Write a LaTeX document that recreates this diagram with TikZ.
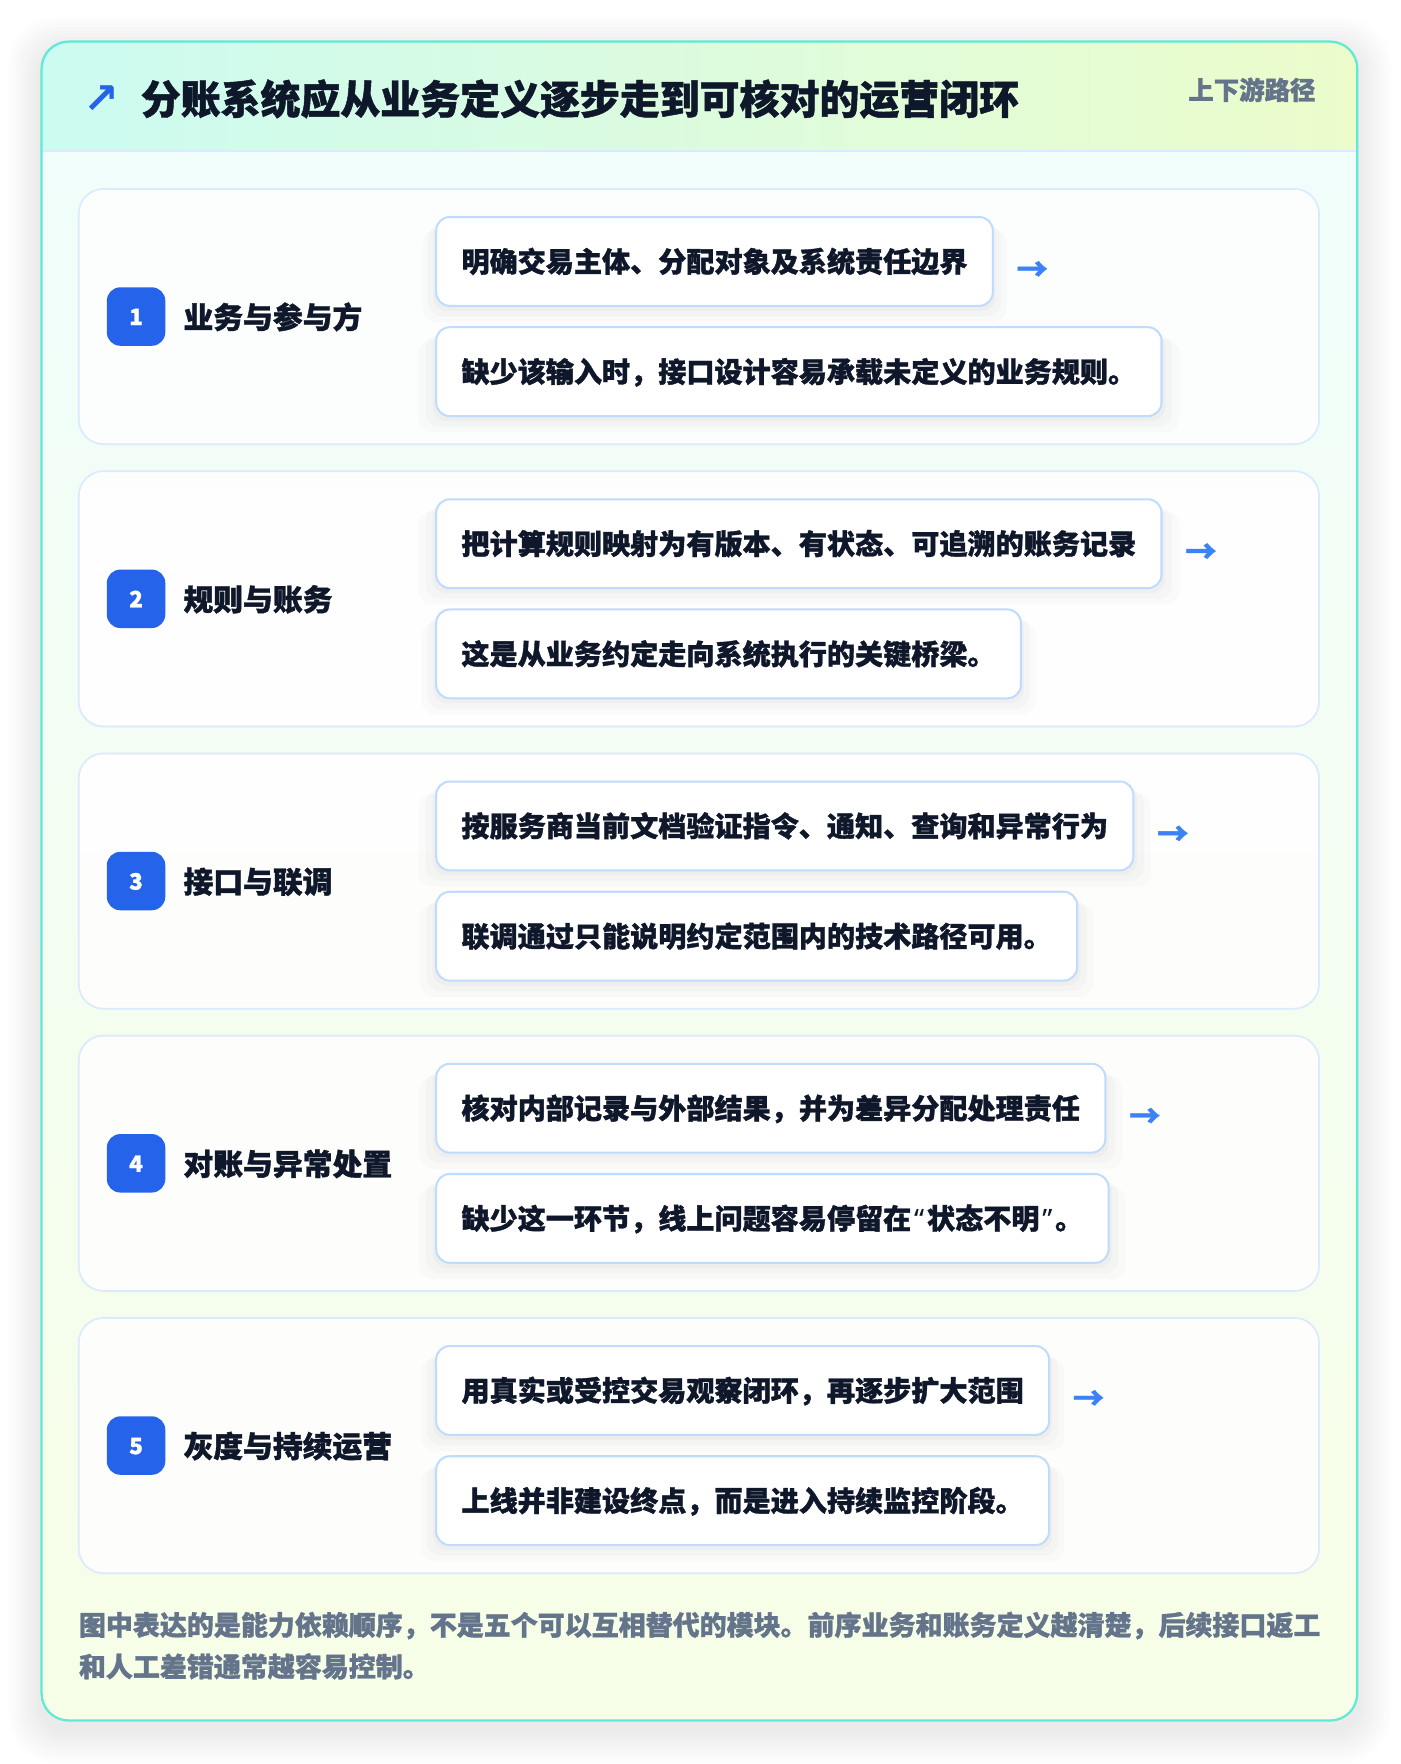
\documentclass[tikz,border=0pt]{standalone}
\usepackage{fontspec}
\setmainfont{Noto Sans CJK SC}[BoldFeatures={FakeBold=1.2}]
\newfontfamily\quotefont{Noto Sans}[BoldFeatures={FakeBold=1.2}]
\newfontfamily\arrowfont{DejaVu Sans}
\usetikzlibrary{shadows}
\definecolor{titlec}{HTML}{0F172A}
\definecolor{badgec}{HTML}{2563EB}
\definecolor{arrowc}{HTML}{3B82F6}
\definecolor{boxborder}{HTML}{BFDBFE}
\definecolor{panelborder}{HTML}{DBEAFE}
\definecolor{cardborder}{HTML}{5EEAD4}
\definecolor{muted}{HTML}{64748B}
\definecolor{hdrL}{HTML}{CCFBF1}
\definecolor{hdrR}{HTML}{ECFCCB}
\definecolor{bodyT}{HTML}{F0FDFA}
\definecolor{bodyB}{HTML}{F7FEE7}
\newcommand{\myopenq}{{\quotefont\bfseries\kern2.5pt “\kern2.5pt}}
\newcommand{\mycloseq}{{\quotefont\bfseries\kern2.5pt ”\kern2.5pt}}
\begin{document}
\begin{tikzpicture}[x=1pt,y=-1pt,
  panel/.style={draw=panelborder, line width=1.5pt, fill=white, fill opacity=0.85, rounded corners=22pt,
    minimum width=1103pt, minimum height=227pt, inner sep=0pt},
  badge/.style={fill=badgec, rounded corners=12pt, minimum size=52pt, inner sep=0pt,
    text=white, font=\bfseries\fontsize{20}{24}\selectfont, text height=17.6pt, text depth=2.4pt},
  rowlabel/.style={anchor=west, inner sep=0pt, text=titlec, font=\bfseries\fontsize{26.5}{30}\selectfont,
    text height=23.32pt, text depth=3.18pt},
  stepbox/.style={anchor=west, draw=boxborder, line width=1.8pt, fill=white, rounded corners=12pt,
    minimum height=79pt, inner xsep=22.5pt, inner ysep=0pt, text=titlec,
    font=\bfseries\fontsize{25}{30}\selectfont, text height=22pt, text depth=3pt,
    general shadow={fill=black, opacity=0.025, shadow yshift=-4pt, shadow scale=1.01},
    general shadow={fill=black, opacity=0.02, shadow yshift=-8pt, shadow scale=1.03},
    general shadow={fill=black, opacity=0.015, shadow yshift=-12pt, shadow scale=1.05}},
  flowarrow/.style={anchor=west, inner sep=0pt, text=arrowc, font=\bfseries\fontsize{28}{30}\selectfont},
  foot/.style={anchor=west, inner sep=0pt, text=muted, font=\bfseries\fontsize{24}{30}\selectfont,
    text height=21.12pt, text depth=2.88pt}
]
\useasboundingbox (0,0) rectangle (1245,1568.7);
\fill[white] (0,0) rectangle (1245,1568.7);
% card shadow
\foreach \k in {1,...,10}{
  \fill[black, opacity=0.006, rounded corners=24pt+\k*2pt] (37-\k*3,37-\k*3+8) rectangle (1207+\k*3,1530+\k*3+8);
}
% card
\begin{scope}
\clip[rounded corners=24pt] (37,37) rectangle (1207,1530);
\shade[top color=bodyT, bottom color=bodyB] (37,134) rectangle (1207,1530);
\shade[left color=hdrL, right color=hdrR] (37,37) rectangle (1207,134);
\draw[panelborder, line width=1.5pt] (37,134) -- (1207,134);
\end{scope}
\draw[cardborder, line width=2pt, rounded corners=24pt] (37,37) rectangle (1207,1530);
% header
\node[anchor=center, inner sep=0pt, text=badgec, font=\arrowfont\bfseries\fontsize{38}{40}\selectfont] (ttlarrow) at (90.5,89) {↗};
\node[anchor=west, inner sep=0pt, text=titlec, font=\bfseries\fontsize{35.5}{40}\selectfont,
  text height=31.24pt, text depth=4.26pt] (title) at (125,88) {分账系统应从业务定义逐步走到可核对的运营闭环};
\node[anchor=east, inner sep=0pt, text=muted, font=\bfseries\fontsize{22.6}{26}\selectfont,
  text height=19.89pt, text depth=2.71pt] (tag) at (1170,80) {上下游路径};
% rows
\foreach \i/\lab/\ta/\tb in {
  1/业务与参与方/明确交易主体、分配对象及系统责任边界/缺少该输入时，接口设计容易承载未定义的业务规则。,
  2/规则与账务/把计算规则映射为有版本、有状态、可追溯的账务记录/这是从业务约定走向系统执行的关键桥梁。,
  3/接口与联调/按服务商当前文档验证指令、通知、查询和异常行为/联调通过只能说明约定范围内的技术路径可用。,
  4/对账与异常处置/核对内部记录与外部结果，并为差异分配处理责任/缺少这一环节，线上问题容易停留在\myopenq 状态不明\mycloseq 。,
  5/灰度与持续运营/用真实或受控交易观察闭环，再逐步扩大范围/上线并非建设终点，而是进入持续监控阶段。}{
  \pgfmathsetmacro{\top}{168+251*(\i-1)}
  \node[panel] (p\i) at (621.5,\top+113.5) {};
  \node[badge] (n\i) at (121,\top+113.5) {\i};
  \node[rowlabel] (l\i) at (163,\top+114) {\lab};
  \node[stepbox] (a\i) at (387,\top+64.5) {\ta};
  \node[stepbox] (b\i) at (387,\top+162.5) {\tb};
  \node[flowarrow] (r\i) at ([xshift=20pt,yshift=-8.5pt]a\i.east) {→};
}
% footer
\node[foot] (f1) at (70,1445) {图中表达的是能力依赖顺序，不是五个可以互相替代的模块。前序业务和账务定义越清楚，后续接口返工};
\node[foot] (f2) at (70,1482) {和人工差错通常越容易控制。};
\end{tikzpicture}
\end{document}
